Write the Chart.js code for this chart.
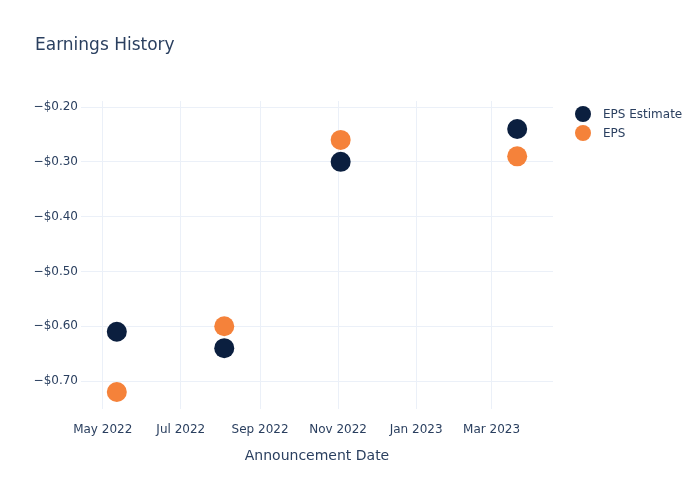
<!DOCTYPE html>
<html>
<head>
<meta charset="utf-8">
<script src="https://cdn.jsdelivr.net/npm/chart.js@4/dist/chart.umd.min.js"></script>
<style>
  html, body { margin: 0; padding: 0; background: #fff; }
  #wrap { width: 700px; height: 500px; }
</style>
</head>
<body>
<div id="wrap"><canvas id="earnings"></canvas></div>
<script>
    // chart data
    var announceDates = ['2022-05-12', '2022-08-04', '2022-11-03', '2023-03-21'];
    var epsEstimate = [-0.61, -0.64, -0.30, -0.24];
    var epsActual = [-0.72, -0.60, -0.26, -0.29];
    var seriesNames = ['EPS Estimate', 'EPS'];
    var seriesColors = ['#0b1f3f', '#f5823a'];
    var xTickDates = ['2022-05-01', '2022-07-01', '2022-09-01', '2022-11-01', '2023-01-01', '2023-03-01'];
    var xTickLabels = ['May 2022', 'Jul 2022', 'Sep 2022', 'Nov 2022', 'Jan 2023', 'Mar 2023'];
    var yTicks = [-0.7, -0.6, -0.5, -0.4, -0.3, -0.2];

    var DAY = 86400000;
    var fontFamily = '"DejaVu Sans", Verdana, sans-serif';
    var textColor = '#2a3f5f';
    var gridColor = '#ebf0f8';

    function ts(d) {
        return Date.parse(d + 'T00:00:00Z');
    }

    function toPoints(values) {
        return values.map(function (v, i) {
            return { x: ts(announceDates[i]), y: v };
        });
    }

    function money(v) {
        var s = '$' + Math.abs(v).toFixed(2);
        return v < 0 ? '\u2212' + s : s;
    }

    // title and legend drawn in plotly-like spots
    var decorations = {
        id: 'decorations',
        afterDraw: function (chart) {
            var ctx = chart.ctx;
            ctx.save();
            ctx.fillStyle = textColor;
            ctx.font = '17px ' + fontFamily;
            ctx.textBaseline = 'middle';
            ctx.textAlign = 'left';
            ctx.fillText('Earnings History', 35, 46);

            ctx.font = '12px ' + fontFamily;
            chart.data.datasets.forEach(function (ds, i) {
                var y = 114 + i * 19;
                ctx.beginPath();
                ctx.arc(583, y, 8, 0, Math.PI * 2);
                ctx.fillStyle = ds.backgroundColor;
                ctx.fill();
                ctx.fillStyle = textColor;
                ctx.fillText(ds.label, 603, y + 1);
            });
            ctx.restore();
        }
    };

    var datasets = [epsEstimate, epsActual].map(function (vals, i) {
        return {
            label: seriesNames[i],
            data: toPoints(vals),
            backgroundColor: seriesColors[i],
            borderColor: seriesColors[i],
            pointRadius: 10,
            pointHoverRadius: 10,
            borderWidth: 0,
            showLine: false
        };
    });

    var chart = new Chart(document.getElementById('earnings'), {
        type: 'scatter',
        data: { datasets: datasets },
        plugins: [decorations],
        options: {
            responsive: true,
            maintainAspectRatio: false,
            animation: false,
            layout: { padding: { top: 101, right: 147, left: 0, bottom: 0 } },
            plugins: {
                legend: { display: false },
                title: { display: false },
                tooltip: { enabled: false }
            },
            scales: {
                x: {
                    type: 'linear',
                    min: ts(xTickDates[0]) - 17 * DAY,
                    max: ts(xTickDates[5]) + 48 * DAY,
                    border: { display: false },
                    grid: { color: gridColor, drawTicks: false },
                    afterBuildTicks: function (scale) {
                        scale.ticks = xTickDates.map(function (d) { return { value: ts(d) }; });
                    },
                    afterFit: function (scale) { scale.height = 91; },
                    ticks: {
                        padding: 14,
                        maxRotation: 0,
                        autoSkip: false,
                        color: textColor,
                        font: { family: fontFamily, size: 12 },
                        callback: function (value) {
                            var idx = xTickDates.findIndex(function (d) { return ts(d) === value; });
                            return idx >= 0 ? xTickLabels[idx] : '';
                        }
                    },
                    title: {
                        display: true,
                        text: 'Announcement Date',
                        color: textColor,
                        font: { family: fontFamily, size: 14 },
                        padding: { top: 0, bottom: 35 }
                    }
                },
                y: {
                    min: -0.751,
                    max: -0.189,
                    border: { display: false },
                    grid: { color: gridColor, drawTicks: false },
                    afterBuildTicks: function (scale) {
                        scale.ticks = yTicks.map(function (v) { return { value: v }; });
                    },
                    afterFit: function (scale) { scale.width = 81; },
                    ticks: {
                        padding: 3,
                        color: textColor,
                        font: { family: fontFamily, size: 12 },
                        callback: function (value) { return money(value); }
                    }
                }
            }
        }
    });
</script>
</body>
</html>
